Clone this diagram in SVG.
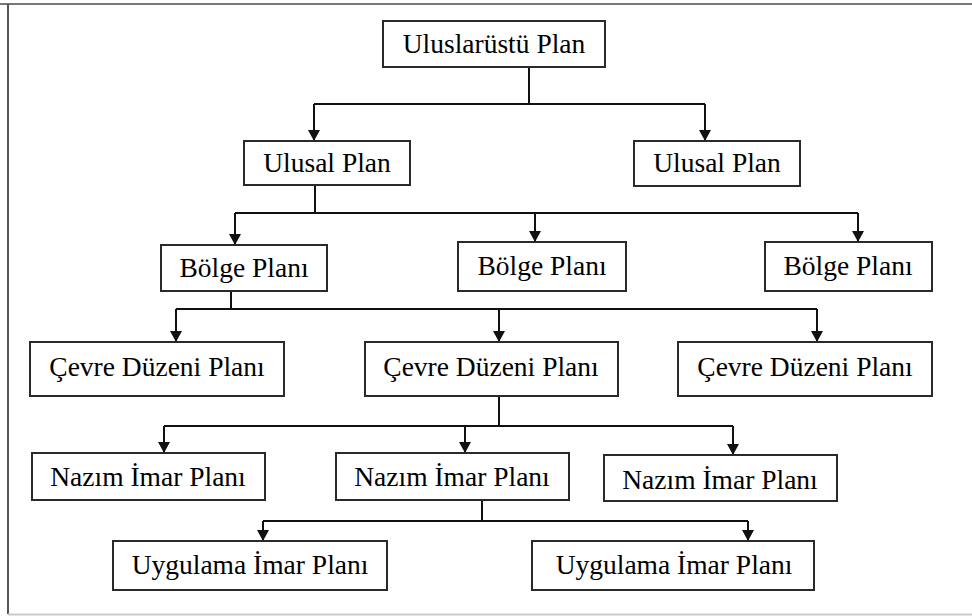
<svg xmlns="http://www.w3.org/2000/svg" width="972" height="616" viewBox="0 0 972 616">
  <style>
    .box { fill: #ffffff; stroke: #2a2a2a; stroke-width: 2; }
    .lbl { font-family: "Liberation Serif", "Times New Roman", serif; font-size: 27.5px; fill: #000000; text-anchor: middle; }
    .wire { fill: none; stroke: #111111; stroke-width: 2; }
    .arrow { fill: none; stroke: #111111; stroke-width: 2; marker-end: url(#head); }
  </style>
  <defs>
    <marker id="head" viewBox="0 0 11 12" refX="11" refY="6" markerWidth="11" markerHeight="12" markerUnits="userSpaceOnUse" orient="auto">
      <path d="M0,0 L11,6 L0,12 z" fill="#111111"/>
    </marker>
  </defs>

  <rect width="972" height="616" fill="#ffffff"/>

  <!-- outer frame -->
  <g id="frame">
    <line x1="0" y1="4" x2="972" y2="4" stroke="#777777" stroke-width="2"/>
    <line x1="8" y1="4" x2="8" y2="614" stroke="#555555" stroke-width="2"/>
    <line x1="8" y1="614.5" x2="972" y2="614.5" stroke="#cccccc" stroke-width="2"/>
  </g>

  <!-- connectors -->
  <g id="connectors">
    <!-- Uluslarüstü -> Ulusal -->
    <path class="wire" d="M529,67 V104 M314,104 H705"/>
    <path class="arrow" d="M314,104 V141"/>
    <path class="arrow" d="M705,104 V141"/>
    <!-- Ulusal -> Bölge -->
    <path class="wire" d="M315,185 V213 M235,213 H858"/>
    <path class="arrow" d="M235,213 V245"/>
    <path class="arrow" d="M535,213 V242"/>
    <path class="arrow" d="M858,213 V242"/>
    <!-- Bölge -> Çevre -->
    <path class="wire" d="M231,291 V309 M176,309 H817"/>
    <path class="arrow" d="M176,309 V342"/>
    <path class="arrow" d="M499,309 V342"/>
    <path class="arrow" d="M817,309 V342"/>
    <!-- Çevre -> Nazım -->
    <path class="wire" d="M499,396 V426 M164,426 H733"/>
    <path class="arrow" d="M164,426 V453"/>
    <path class="arrow" d="M465,426 V453"/>
    <path class="arrow" d="M733,426 V455"/>
    <!-- Nazım -> Uygulama -->
    <path class="wire" d="M482,500 V521 M263,521 H748"/>
    <path class="arrow" d="M263,521 V541"/>
    <path class="arrow" d="M748,521 V541"/>
  </g>

  <!-- level 1 -->
  <g id="uluslarustu">
    <rect class="box" x="383" y="21" width="222" height="46"/>
    <text class="lbl" x="494" y="53">Uluslarüstü Plan</text>
  </g>

  <!-- level 2 -->
  <g id="ulusal-1">
    <rect class="box" x="244" y="141" width="166" height="44"/>
    <text class="lbl" x="327" y="172">Ulusal Plan</text>
  </g>
  <g id="ulusal-2">
    <rect class="box" x="634" y="141" width="166" height="45"/>
    <text class="lbl" x="717" y="172">Ulusal Plan</text>
  </g>

  <!-- level 3 -->
  <g id="bolge-1">
    <rect class="box" x="161" y="245" width="166" height="46"/>
    <text class="lbl" x="244" y="277">Bölge Planı</text>
  </g>
  <g id="bolge-2">
    <rect class="box" x="458" y="242" width="168" height="49"/>
    <text class="lbl" x="542" y="275">Bölge Planı</text>
  </g>
  <g id="bolge-3">
    <rect class="box" x="765" y="242" width="167" height="49"/>
    <text class="lbl" x="848" y="275">Bölge Planı</text>
  </g>

  <!-- level 4 -->
  <g id="cevre-1">
    <rect class="box" x="30" y="342" width="254" height="54"/>
    <text class="lbl" x="157" y="376">Çevre Düzeni Planı</text>
  </g>
  <g id="cevre-2">
    <rect class="box" x="365" y="342" width="253" height="54"/>
    <text class="lbl" x="491" y="376">Çevre Düzeni Planı</text>
  </g>
  <g id="cevre-3">
    <rect class="box" x="678" y="342" width="254" height="54"/>
    <text class="lbl" x="805" y="376">Çevre Düzeni Planı</text>
  </g>

  <!-- level 5 -->
  <g id="nazim-1">
    <rect class="box" x="32" y="453" width="233" height="47"/>
    <text class="lbl" x="148" y="486">Nazım İmar Planı</text>
  </g>
  <g id="nazim-2">
    <rect class="box" x="336" y="453" width="233" height="47"/>
    <text class="lbl" x="452" y="486">Nazım İmar Planı</text>
  </g>
  <g id="nazim-3">
    <rect class="box" x="604" y="455" width="233" height="46"/>
    <text class="lbl" x="720" y="489">Nazım İmar Planı</text>
  </g>

  <!-- level 6 -->
  <g id="uygulama-1">
    <rect class="box" x="113" y="541" width="274" height="49"/>
    <text class="lbl" x="250" y="574">Uygulama İmar Planı</text>
  </g>
  <g id="uygulama-2">
    <rect class="box" x="532" y="541" width="282" height="49"/>
    <text class="lbl" x="674" y="574">Uygulama İmar Planı</text>
  </g>
</svg>
